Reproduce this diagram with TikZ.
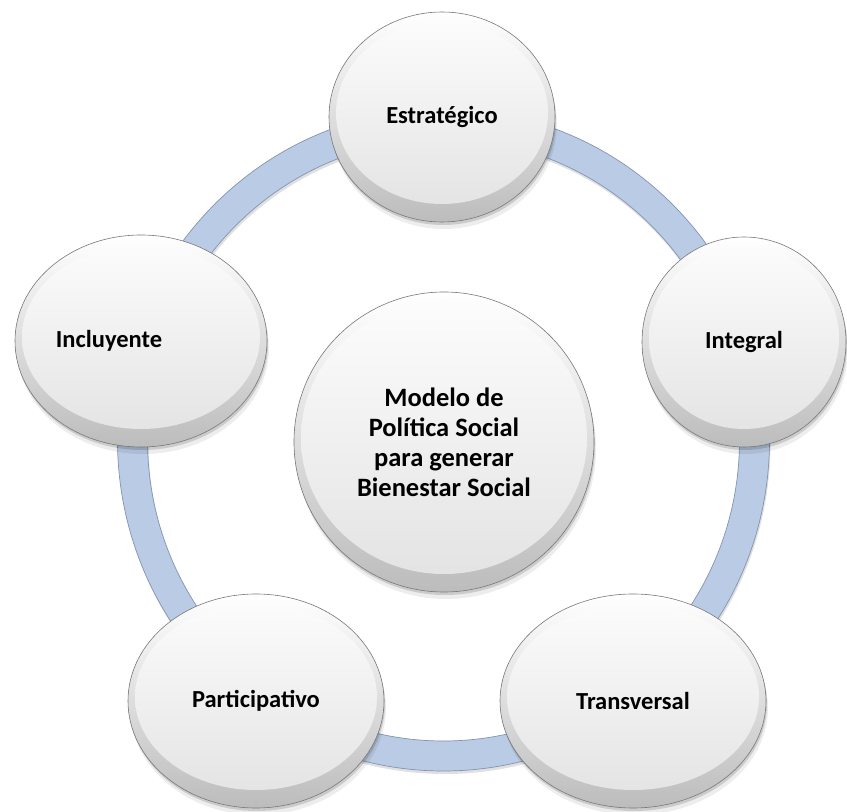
\documentclass[tikz,border=0pt]{standalone}
\usepackage{fontspec}
\setmainfont{Carlito}
\usetikzlibrary{shapes.geometric,shadows}
\definecolor{ringblue}{RGB}{185,203,229}
\definecolor{ringedge}{RGB}{130,148,176}
\definecolor{rimline}{RGB}{120,120,120}
\definecolor{rimdark}{RGB}{188,188,188}
\definecolor{rimmid}{RGB}{244,244,244}
\definecolor{facetop}{RGB}{253,253,253}
\definecolor{facemid}{RGB}{242,242,242}
\definecolor{facebot}{RGB}{226,226,226}
\begin{document}
\begin{tikzpicture}[x=1pt,y=1pt,
  bub/.style 2 args={shape=ellipse, inner sep=0pt, outer sep=0pt,
    minimum width=2*#1, minimum height=2*#2,
    draw=rimline, line width=0.6pt,
    top color=white, middle color=rimmid, bottom color=rimdark,
    drop shadow={fill=black, opacity=0.07, shadow xshift=2pt, shadow yshift=-7pt},
    drop shadow={fill=black, opacity=0.14, shadow xshift=1pt, shadow yshift=-3pt},
    path picture={\shade[top color=facetop, middle color=facemid, bottom color=facebot]
      ([yshift=4pt]path picture bounding box.center) ellipse [x radius=#1-7pt, y radius=#2-14pt];},
    font=\fontsize{24.5}{29}\selectfont\bfseries, text=black},
  ring/.style={fill=ringblue, even odd rule},
  ringline/.style={draw=ringedge, line width=0.7pt}]
\useasboundingbox (0,0) rectangle (847,812);
\fill[white] (0,0) rectangle (847,812);
% ring
\coordinate (rc) at (443.5,372);
\fill[black, opacity=0.12, even odd rule] ([shift={(1,-3)}]rc) ellipse [x radius=326, y radius=331] ([shift={(1,-3)}]rc) ellipse [x radius=296, y radius=301];
\fill[ring] (rc) ellipse [x radius=326, y radius=331] (rc) ellipse [x radius=296, y radius=301];
\draw[ringline] (rc) ellipse [x radius=326, y radius=331];
\draw[ringline] (rc) ellipse [x radius=296, y radius=301];
% bubbles
\node[bub={113pt}{105pt}] (est) at (442,695) {Estratégico};
\node[bub={102pt}{105pt}] (int) at (744,470) {Integral};
\node[bub={126pt}{106pt}] (inc) at (141,471) {Incluyente\kern64pt};
\node[bub={133pt}{107pt}] (tra) at (633,111) {Transversal};
\node[bub={128pt}{107pt}] (par) at (256,111) {Participativo};
\node[bub={150pt}{150pt}, font=\fontsize{26.5}{30}\selectfont\bfseries, align=center] (cen) at (444,370)
  {Modelo de\\Política Social\\para generar\\Bienestar Social};
\end{tikzpicture}
\end{document}
